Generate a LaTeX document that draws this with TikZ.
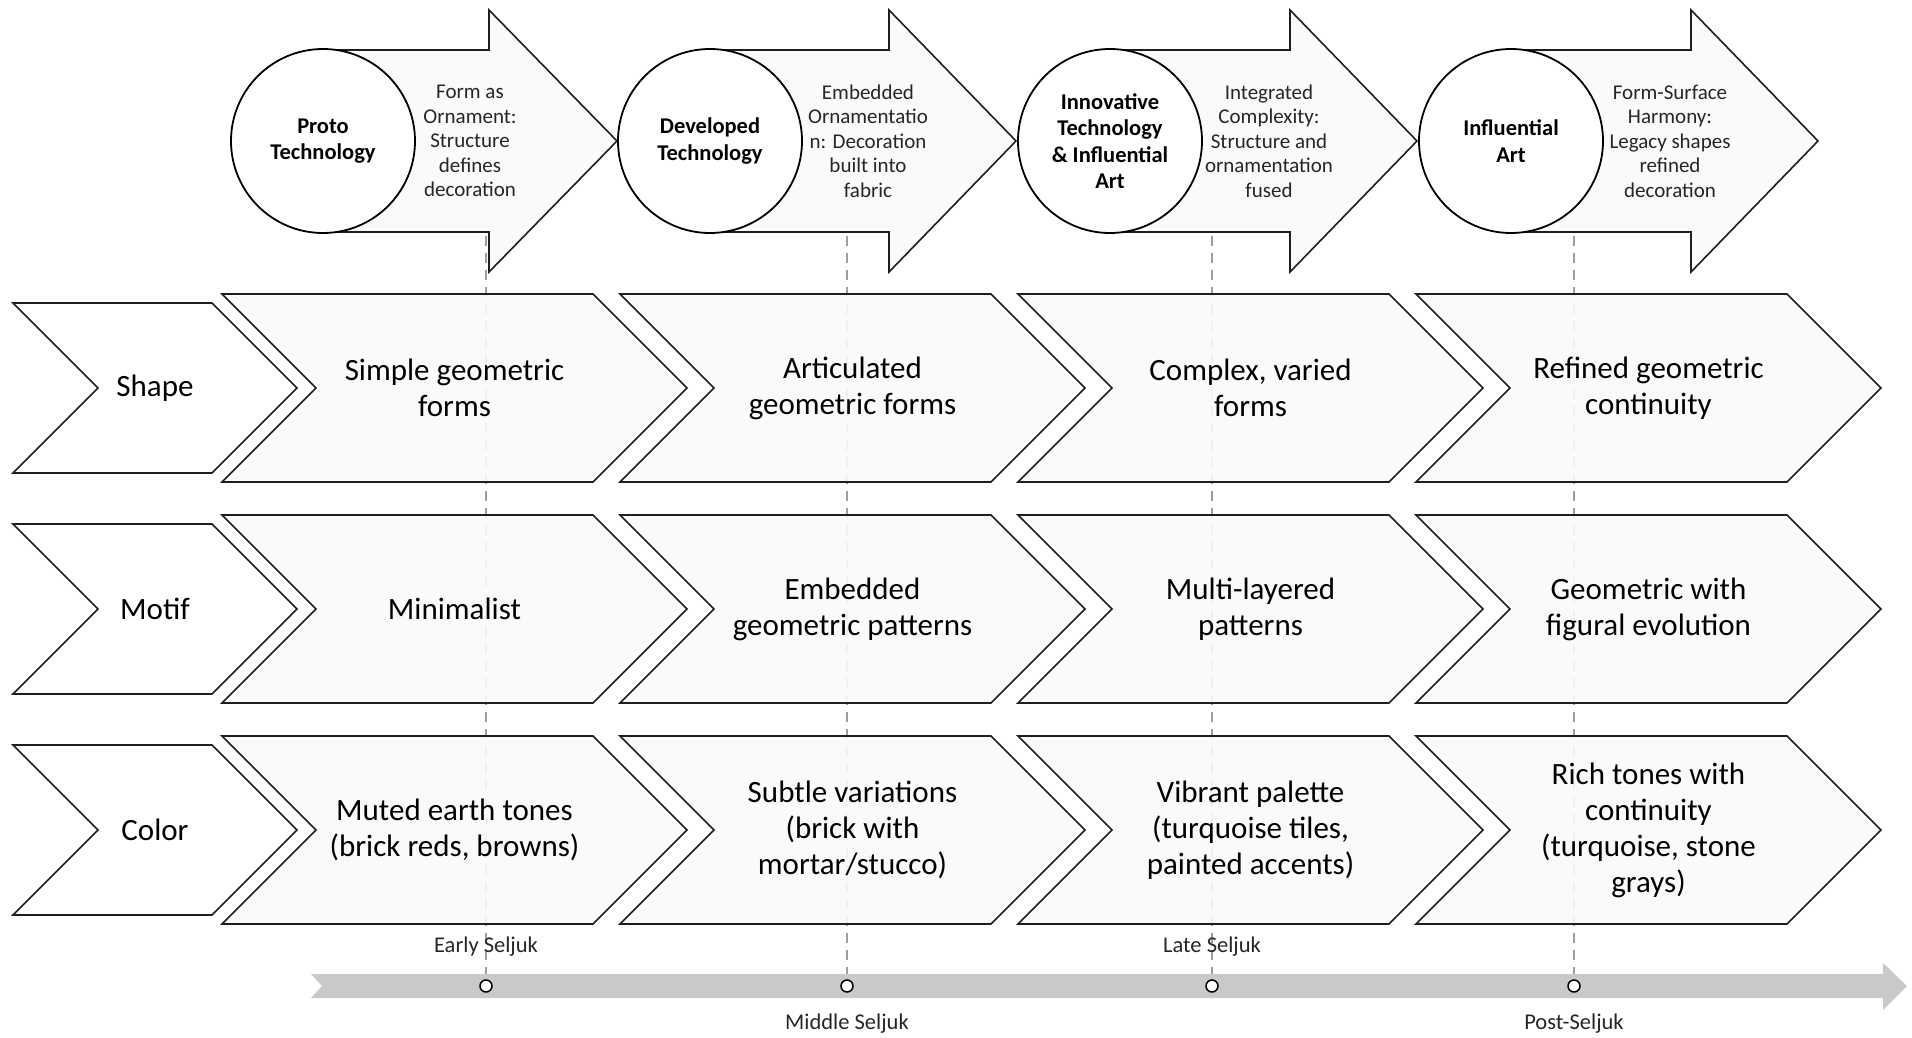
\documentclass[tikz,border=0pt]{standalone}
\usepackage{fontspec}
\setmainfont{Carlito}
\usetikzlibrary{calc}

\definecolor{panel}{HTML}{FAFAFA}
\definecolor{band}{HTML}{C9C9C9}
\definecolor{guide}{HTML}{9E9E9E}
\definecolor{edge}{HTML}{1E1E1E}

% chevron: style, name, left x, mid y, body width, half height, text
\newcommand{\Chevron}[7]{%
  \draw[#1] (#3,#4-#6) -- ++(#5,0) -- ++(#6,#6) -- ++(-#6,#6) -- ++(-#5,0) -- ++(#6,-#6) -- cycle;
  \node[#1 text] (#2) at ({#3+(#5+#6)/2},#4) {#7};
}

% era arrow: circle x, head x, tip x
\newcommand{\EraArrow}[3]{%
  \draw[eraarrow] (#1,50) -- (#2,50) -- (#2,10) -- (#3,141) -- (#2,272) -- (#2,232) -- (#1,232) -- cycle;
}

\begin{document}
\begin{tikzpicture}[x=1pt, y=-1pt,
    tag/.style = {draw=edge, line width=1.6pt, fill=white},
    tag text/.style = {font=\fontsize{31}{36}\selectfont, align=center},
    cell/.style = {draw=edge, line width=1.6pt, fill=panel, fill opacity=0.9},
    cell text/.style = {font=\fontsize{31}{36}\selectfont, align=center},
    eraarrow/.style = {draw=edge, line width=1.6pt, fill=panel},
    era/.style = {circle, draw=black, line width=1.8pt, fill=white, minimum size=184pt,
                  inner sep=0pt, align=center, font=\bfseries\fontsize{22.5}{26.5}\selectfont},
    note/.style = {align=center, text=black!85, font=\fontsize{21}{24.5}\selectfont},
    guide/.style = {draw=guide, line width=2pt, dash pattern=on 10pt off 7pt},
    dot/.style = {circle, draw=black, line width=1.5pt, fill=white, minimum size=12pt, inner sep=0pt},
    tick/.style = {text=black!85, font=\fontsize{22.5}{26}\selectfont}]

\useasboundingbox (0,0) rectangle (1912,1038);

% period guides
\coordinate (g1) at (486,236);  \coordinate (b1) at (486,980);
\coordinate (g2) at (847,236);  \coordinate (b2) at (847,980);
\coordinate (g3) at (1212,236); \coordinate (b3) at (1212,980);
\coordinate (g4) at (1574,236); \coordinate (b4) at (1574,980);
\draw[guide] (g1) -- (b1);
\draw[guide] (g2) -- (b2);
\draw[guide] (g3) -- (b3);
\draw[guide] (g4) -- (b4);

% row headers
\Chevron{tag}{shape}{13}{388}{199}{85}{Shape}
\Chevron{tag}{motif}{13}{609}{199}{85}{Motif}
\Chevron{tag}{color}{13}{830}{199}{85}{Color}

% shape row
\Chevron{cell}{shape1}{222}{388}{371}{94}{Simple geometric\\forms}
\Chevron{cell}{shape2}{620}{388}{371}{94}{Articulated\\geometric forms}
\Chevron{cell}{shape3}{1018}{388}{371}{94}{Complex, varied\\forms}
\Chevron{cell}{shape4}{1416}{388}{371}{94}{Refined geometric\\continuity}

% motif row
\Chevron{cell}{motif1}{222}{609}{371}{94}{Minimalist}
\Chevron{cell}{motif2}{620}{609}{371}{94}{Embedded\\geometric patterns}
\Chevron{cell}{motif3}{1018}{609}{371}{94}{Multi-layered\\patterns}
\Chevron{cell}{motif4}{1416}{609}{371}{94}{Geometric with\\figural evolution}

% color row
\Chevron{cell}{color1}{222}{830}{371}{94}{Muted earth tones\\(brick reds, browns)}
\Chevron{cell}{color2}{620}{830}{371}{94}{Subtle variations\\(brick with\\mortar/stucco)}
\Chevron{cell}{color3}{1018}{830}{371}{94}{Vibrant palette\\(turquoise tiles,\\painted accents)}
\Chevron{cell}{color4}{1416}{830}{371}{94}{Rich tones with\\continuity\\(turquoise, stone\\grays)}

% eras
\EraArrow{323}{489}{617}
\node[era] (proto) at (323,141) {Proto\\Technology};
\node[note] (protonote) at (470,141) {Form as\\Ornament:\\Structure\\defines\\decoration};

\EraArrow{710}{889}{1016}
\node[era] (developed) at (710,141) {Developed\\Technology};
\node[note] (developednote) at (868,141) {Embedded\\Ornamentatio\\n: Decoration\\built into\\fabric};

\EraArrow{1110}{1290}{1417}
\node[era] (innovative) at (1110,141) {Innovative\\Technology\\\& Influential\\Art};
\node[note] (innovativenote) at (1269,141) {Integrated\\Complexity:\\Structure and\\ornamentation\\fused};

\EraArrow{1511}{1691}{1818}
\node[era] (influential) at (1511,141) {Influential\\Art};
\node[note] (influentialnote) at (1670,141) {Form-Surface\\Harmony:\\Legacy shapes\\refined\\decoration};

% timeline
\fill[band] (311,974) -- (1883,974) -- (1883,963) -- (1907,986) -- (1883,1010)
  -- (1883,998) -- (311,998) -- (322,986) -- cycle;
\node[dot] (t1) at (486,986) {};
\node[dot] (t2) at (847,986) {};
\node[dot] (t3) at (1212,986) {};
\node[dot] (t4) at (1574,986) {};
\node[tick] (early) at (486,947) {Early Seljuk};
\node[tick] (middle) at (847,1024) {Middle Seljuk};
\node[tick] (late) at (1212,947) {Late Seljuk};
\node[tick] (post) at (1574,1024) {Post-Seljuk};

\end{tikzpicture}
\end{document}
